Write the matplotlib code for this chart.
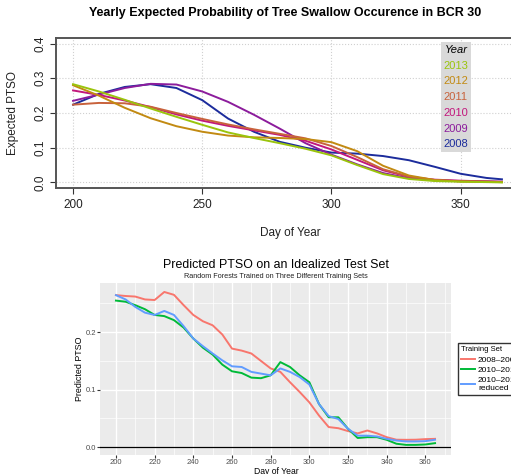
import matplotlib
matplotlib.use("Agg")
import matplotlib.pyplot as plt
from matplotlib.lines import Line2D

plt.rcParams["font.family"] = ["Liberation Sans", "DejaVu Sans"]

# ---- top panel: yearly expected PTSO curves ----
days_top = [200, 210, 220, 230, 240, 250, 260, 270, 280, 290, 300, 310, 320, 330, 340, 350, 360, 366]
years = ["2008", "2009", "2010", "2011", "2012", "2013"]
ptso_2008 = [.224, .255, .275, .283, .272, .237, .184, .146, .117, .100, .086, .083, .076, .064, .045, .025, .013, .009]
ptso_2009 = [.235, .253, .272, .284, .282, .262, .232, .195, .155, .113, .080, .052, .027, .012, .006, .004, .003, .002]
ptso_2010 = [.265, .252, .236, .217, .196, .178, .163, .150, .137, .120, .095, .065, .035, .016, .008, .005, .003, .002]
ptso_2011 = [.224, .229, .228, .218, .200, .183, .167, .153, .140, .127, .105, .073, .038, .017, .007, .003, .002, .001]
ptso_2012 = [.280, .250, .215, .185, .162, .146, .135, .130, .128, .125, .116, .090, .048, .020, .007, .003, .002, .001]
ptso_2013 = [.283, .262, .238, .213, .189, .166, .144, .128, .113, .097, .078, .050, .024, .010, .004, .002, .001, .000]
year_colors = ["#1c2c9c", "#8c1c9c", "#c2177c", "#c8623c", "#c28a12", "#9ac40c"]

# ---- bottom panel: random forest predictions on idealized test set ----
days_bot = list(range(200, 366, 5))
pred_0809 = [.2645, .263, .262, .257, .256, .270, .265, .247, .230, .219, .212, .196, .1715, .168, .163, .150, .137,
             .131, .113, .096, .078, .055, .035, .033, .028, .024, .029, .024, .0174, .013, .0128, .013, .014, .0145]
pred_1013 = [.255, .253, .247, .240, .230, .228, .221, .208, .189, .173, .161, .1436, .132, .129, .121, .120, .125,
             .148, .1395, .125, .113, .075, .052, .052, .032, .016, .0174, .0174, .0128, .006, .004, .004, .0047, .007]
pred_1013r = [.2645, .257, .244, .234, .230, .237, .230, .2105, .189, .1756, .163, .151, .1407, .1395, .131, .128, .125,
              .137, .131, .122, .109, .075, .054, .049, .032, .020, .020, .0186, .0145, .0116, .010, .010, .0105, .013]
set_labels = ["2008\u20132009", "2010\u20132013", "2010\u20132013\nreduced"]
set_colors = ["#F8766D", "#00BA38", "#619CFF"]

W, H = 511, 474
fig = plt.figure(figsize=(W / 100, H / 100), dpi=100)

# top: base-R look
ax = fig.add_axes([56 / W, 1 - 188 / H, 463 / W, 150 / H])
for y, c in zip([ptso_2008, ptso_2009, ptso_2010, ptso_2011, ptso_2012, ptso_2013], year_colors):
    ax.plot(days_top, y, color=c, lw=1.4)
ax.set_xlim(193.4, 372.6)
ax.set_ylim(-0.016, 0.416)
ax.set_xticks([200, 250, 300, 350])
ax.set_yticks([0.0, 0.1, 0.2, 0.3, 0.4])
ax.set_yticklabels(["0.0", "0.1", "0.2", "0.3", "0.4"], rotation=90, va="center")
ax.grid(color="#d0d0d0", linestyle=":", lw=0.8)
ax.tick_params(labelsize=8.5, length=4, color="#333333", labelcolor="#222222", pad=4)
ax.tick_params(axis="y", pad=3)
for s in ax.spines.values():
    s.set_color("#555555")
    s.set_linewidth(1.4)

handles = [Line2D([], [], color=c) for c in year_colors][::-1]
leg = ax.legend(handles, years[::-1], loc="upper left", bbox_to_anchor=((441 - 56) / 463, (188 - 42) / 150),
                handlelength=0, handletextpad=0, labelcolor="linecolor", fontsize=8,
                title="Year", title_fontproperties={"style": "italic", "size": 8},
                frameon=True, fancybox=False, borderpad=0.25, labelspacing=0.52, borderaxespad=0)
leg.get_frame().set_facecolor("#d9d9d9")
leg.get_frame().set_edgecolor("none")
leg.get_frame().set_alpha(1)
for h in leg.legend_handles:
    h.set_visible(False)

fig.text(285 / W, 1 - 13 / H, "Yearly Expected Probability of Tree Swallow Occurence in BCR 30",
         ha="center", va="center", fontsize=9, fontweight="bold")
fig.text(290 / W, 1 - 233 / H, "Day of Year", ha="center", va="center", fontsize=8.5, color="#222222")
fig.text(13 / W, 1 - 113 / H, "Expected PTSO", ha="center", va="center", rotation=90, fontsize=8.5, color="#222222")

# bottom: ggplot look
ax2 = fig.add_axes([100 / W, 1 - 455 / H, 351 / W, 172 / H])
ax2.set_facecolor("#EBEBEB")
for y, c, lab in zip([pred_0809, pred_1013, pred_1013r], set_colors, set_labels):
    ax2.plot(days_bot, y, color=c, lw=1.4, label=lab)
ax2.axhline(0, color="black", lw=0.9)
ax2.set_xlim(191.75, 373.25)
ax2.set_ylim(-0.0136, 0.2856)
ax2.set_xticks(range(200, 361, 20))
ax2.set_xticks(range(210, 371, 20), minor=True)
ax2.set_yticks([0.0, 0.1, 0.2])
ax2.set_yticklabels(["0.0", "0.1", "0.2"])
ax2.set_yticks([0.05, 0.15, 0.25], minor=True)
ax2.grid(which="major", color="white", lw=1.0)
ax2.grid(which="minor", color="white", lw=0.5)
ax2.set_axisbelow(True)
ax2.tick_params(which="major", labelsize=5.5, length=2, color="#333333", labelcolor="#4D4D4D", pad=1)
ax2.tick_params(which="minor", length=0)
for s in ax2.spines.values():
    s.set_visible(False)

leg2 = ax2.legend(loc="upper left", bbox_to_anchor=(458 / W, 1 - 343 / H), bbox_transform=fig.transFigure,
                  fontsize=6, title="Training Set", title_fontsize=5.5, frameon=True, fancybox=False,
                  handlelength=1.6, handletextpad=0.4, borderpad=0.4, labelspacing=0.3, borderaxespad=0)
leg2._legend_box.align = "left"
leg2.get_frame().set_edgecolor("black")
leg2.get_frame().set_linewidth(1.0)

fig.text(276 / W, 1 - 265 / H, "Predicted PTSO on an Idealized Test Set", ha="center", va="center", fontsize=8.9)
fig.text(276 / W, 1 - 276 / H, "Random Forests Trained on Three Different Training Sets",
         ha="center", va="center", fontsize=5.2, color="#222222")
fig.text(276 / W, 1 - 471 / H, "Day of Year", ha="center", va="center", fontsize=6.2)
fig.text(79 / W, 1 - 369 / H, "Predicted PTSO", ha="center", va="center", rotation=90, fontsize=6.4)

fig.savefig("out.png", dpi=100)
